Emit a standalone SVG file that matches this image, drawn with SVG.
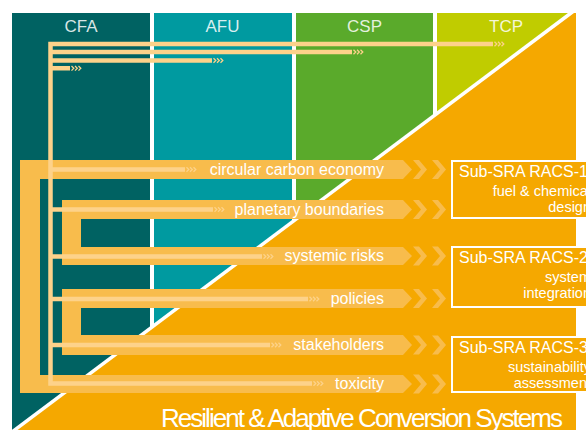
<svg xmlns="http://www.w3.org/2000/svg" xmlns:xlink="http://www.w3.org/1999/xlink" width="586" height="430" viewBox="0 0 586 430">
<style>
.lbl{font-family:"Liberation Sans",Arial,sans-serif;font-size:16px;fill:#ffffff;}
.sub{font-family:"Liberation Sans",Arial,sans-serif;font-size:14.5px;fill:#ffffff;text-anchor:end;}
.head{font-family:"Liberation Sans",Arial,sans-serif;font-size:17px;fill:#ffffff;fill-opacity:0.85;text-anchor:middle;}
.band{fill:#F8BC4C;}
.pale{fill:none;stroke:#FDD28A;stroke-width:4.5;}
.box{fill:#F5A800;stroke:#ffffff;stroke-width:2;}
.end{text-anchor:end;}
</style>
<defs>
<g id="ticks" fill="none" stroke="#FDD28A" stroke-width="1.3">
<polyline points="1.5,-2.3 3.8,0 1.5,2.3"/>
<polyline points="5,-2.3 7.3,0 5,2.3"/>
<polyline points="8.5,-2.3 10.8,0 8.5,2.3"/>
</g>
<g id="chev" class="band">
<polygon points="413,-9.5 419,-9.5 427,0 419,9.5 413,9.5 421,0"/>
<polygon points="432,-9.5 438,-9.5 446,0 438,9.5 432,9.5 440,0"/>
</g>
</defs>
<rect width="586" height="430" fill="#ffffff"/>
<g id="background">
<rect id="panel-cfa" x="12" y="13" width="138" height="420" fill="#006262"/>
<rect id="panel-afu" x="154" y="13" width="138" height="420" fill="#009AA0"/>
<rect id="panel-csp" x="296" y="13" width="137" height="420" fill="#5AAA2B"/>
<rect id="panel-tcp" x="437" y="13" width="139" height="420" fill="#C0CC00"/>
<polygon points="571,13 576,13 576,430 14.7,430" fill="#F5A800"/>
<line x1="575" y1="10" x2="12" y2="432" stroke="#ffffff" stroke-width="3.5"/>
<text class="head" x="81" y="32">CFA</text>
<text class="head" x="222.5" y="32">AFU</text>
<text class="head" x="364.5" y="32">CSP</text>
<text class="head" x="506" y="32">TCP</text>
</g>
<g id="node-circular">
<polygon class="band" points="20,160 403,160 412,169.5 403,179 20,179"/>
<use href="#chev" y="169.5"/>
<text class="lbl end" x="384" y="174.5">circular carbon economy</text>
</g>
<g id="node-planetary">
<polygon class="band" points="62,200 403,200 412,209.5 403,219 62,219"/>
<use href="#chev" y="209.5"/>
<text class="lbl end" x="384" y="214.5">planetary boundaries</text>
</g>
<g id="node-systemic">
<polygon class="band" points="62,247 403,247 412,256 403,265 62,265"/>
<use href="#chev" y="256"/>
<text class="lbl end" x="384" y="261">systemic risks</text>
</g>
<g id="node-policies">
<polygon class="band" points="62,289 403,289 412,298.5 403,308 62,308"/>
<use href="#chev" y="298.5"/>
<text class="lbl end" x="384" y="303.5">policies</text>
</g>
<g id="node-stakeholders">
<polygon class="band" points="62,335 403,335 412,345 403,355 62,355"/>
<use href="#chev" y="345"/>
<text class="lbl end" x="384" y="350">stakeholders</text>
</g>
<g id="node-toxicity">
<polygon class="band" points="20,375 403,375 412,384 403,393 20,393"/>
<use href="#chev" y="384"/>
<text class="lbl end" x="384" y="389">toxicity</text>
</g>
<g id="connectors">
<rect class="band" x="20" y="160" width="20" height="233"/>
<rect class="band" x="62" y="200" width="19" height="65"/>
<rect class="band" x="62" y="289" width="19" height="66"/>
<path class="pale" d="M493 44 H50.5 V383.5 H312"/>
<path class="pale" d="M50.5 52 H352 M50.5 60.5 H212 M50.5 68.3 H70 M50.5 169.5 H185 M50.5 209.5 H213 M50.5 256.5 H262 M50.5 299 H308 M50.5 345 H270"/>
<use href="#ticks" x="493" y="44"/>
<use href="#ticks" x="352" y="52"/>
<use href="#ticks" x="212" y="60.5"/>
<use href="#ticks" x="70" y="68.3"/>
<use href="#ticks" x="185" y="169.5"/>
<use href="#ticks" x="213" y="209.5"/>
<use href="#ticks" x="262" y="256.5"/>
<use href="#ticks" x="308" y="299"/>
<use href="#ticks" x="270" y="345"/>
<use href="#ticks" x="312" y="383.5"/>
</g>
<g id="box-racs1">
<rect class="box" x="452" y="161" width="150" height="57"/>
<text class="lbl" x="459" y="177">Sub-SRA RACS-1</text>
<text class="sub" x="591" y="196">fuel &amp; chemical</text>
<text class="sub" x="591" y="212">design</text>
</g>
<g id="box-racs2">
<rect class="box" x="452" y="247" width="150" height="60"/>
<text class="lbl" x="459" y="263">Sub-SRA RACS-2</text>
<text class="sub" x="591" y="282">system</text>
<text class="sub" x="591" y="298">integration</text>
</g>
<g id="box-racs3">
<rect class="box" x="452" y="337" width="150" height="55"/>
<text class="lbl" x="459" y="353">Sub-SRA RACS-3</text>
<text class="sub" x="591" y="372">sustainability</text>
<text class="sub" x="591" y="388">assessment</text>
</g>
<g id="title">
<text class="lbl" x="161" y="427" style="font-size:26px" textLength="402" lengthAdjust="spacing">Resilient &amp; Adaptive Conversion Systems</text>
</g>
</svg>
